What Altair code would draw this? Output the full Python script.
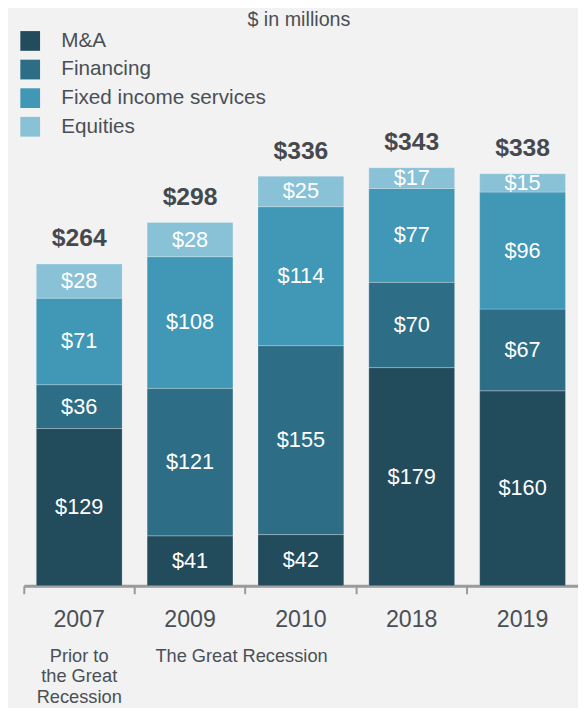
import altair as alt
import pandas as pd

years = ["2007", "2009", "2010", "2018", "2019"]
segments = ["M&A", "Financing", "Fixed income services", "Equities"]
ma = [129, 41, 42, 179, 160]
financing = [36, 121, 155, 70, 67]
fixed_income = [71, 108, 114, 77, 96]
equities = [28, 28, 25, 17, 15]
totals = [264, 298, 336, 343, 338]
colors = ["#224b5c", "#2d6d85", "#4097b6", "#89c1d7"]
annot_2007 = "Prior to\nthe Great\nRecession"
annot_2009 = "The Great Recession"

rows = []
for i, y in enumerate(years):
    for k, (seg, vals) in enumerate(zip(segments, [ma, financing, fixed_income, equities])):
        rows.append({"year": y, "segment": seg, "idx": k, "value": vals[i]})
df = pd.DataFrame(rows)
tot = pd.DataFrame({"year": years, "total": totals})

FONT = "Liberation Sans"
TXT = "#4a4f55"

xs = alt.X("year:N", sort=years, title=None,
           scale=alt.Scale(paddingInner=0, paddingOuter=0),
           axis=alt.Axis(labelAngle=0, labelFontSize=23.5, labelColor=TXT, labelPadding=14,
                         domainColor="#9a9a9a", domainWidth=3, tickColor="#9a9a9a",
                         tickWidth=2, tickSize=8, bandPosition=0, labelFont=FONT,
                         grid=False))
yscale = alt.Scale(domain=[0, 445.8], nice=False, zero=True)

base = alt.Chart(df).transform_stack(
    stack="value", groupby=["year"], as_=["y0", "y1"],
    sort=[alt.SortField("idx", order="ascending")]
).transform_calculate(mid="(datum.y0 + datum.y1) / 2", lab="'$' + datum.value")

bars = base.mark_bar(width=alt.RelativeBandSize(0.774), stroke="#ffffff",
                     strokeWidth=0.8, strokeOpacity=0.3).encode(
    x=xs,
    y=alt.Y("y0:Q", scale=yscale, axis=None),
    y2="y1:Q",
    color=alt.Color("segment:N", sort=segments,
                    scale=alt.Scale(domain=segments, range=colors),
                    legend=alt.Legend(title=None, orient="none", legendX=-4, legendY=-12,
                                      symbolType="square", symbolSize=400,
                                      symbolStrokeWidth=0, symbolOpacity=1,
                                      labelFontSize=21, labelColor=TXT, labelFont=FONT,
                                      labelOffset=21, rowPadding=7, padding=0,
                                      labelLimit=400)),
)

seg_text = base.mark_text(color="white", fontSize=22, baseline="middle", font=FONT).encode(
    x=alt.X("year:N", sort=years),
    y=alt.Y("mid:Q", scale=yscale, axis=None),
    text="lab:N",
)

tot_text = alt.Chart(tot).transform_calculate(lab="'$' + datum.total").mark_text(
    fontSize=25, fontWeight="bold", color="#45494d", baseline="alphabetic", dy=-18, font=FONT
).encode(
    x=alt.X("year:N", sort=years),
    y=alt.Y("total:Q", scale=yscale, axis=None),
    text="lab:N",
)

ann1 = alt.Chart(pd.DataFrame({"year": ["2007"], "t": [annot_2007]})).mark_text(
    fontSize=18.5, color=TXT, baseline="top", align="center", lineBreak="\n",
    lineHeight=21, font=FONT
).encode(x=alt.X("year:N", sort=years), y=alt.value(613), text="t:N")

ann2 = alt.Chart(pd.DataFrame({"year": ["2009"], "t": [annot_2009]})).mark_text(
    fontSize=18.5, color=TXT, baseline="top", align="center", dx=-4, font=FONT
).encode(x=alt.X("year:N", sort=years, bandPosition=1), y=alt.value(613), text="t:N")

chart = alt.layer(bars, seg_text, tot_text, ann1, ann2).properties(
    width=562, height=551,
    title=alt.TitleParams("$ in millions", fontSize=20, fontWeight="normal", color=TXT,
                          anchor="middle", offset=1, dx=-2, font=FONT),
    autosize=alt.AutoSizeParams(type="none"),
    padding={"left": 16, "top": 30, "right": 0, "bottom": 119},
    background="#f2f2f2",
).configure(font=FONT).configure_view(strokeWidth=0, stroke="transparent")

chart.save("out.html", embed_options={"renderer": "svg", "actions": False})
